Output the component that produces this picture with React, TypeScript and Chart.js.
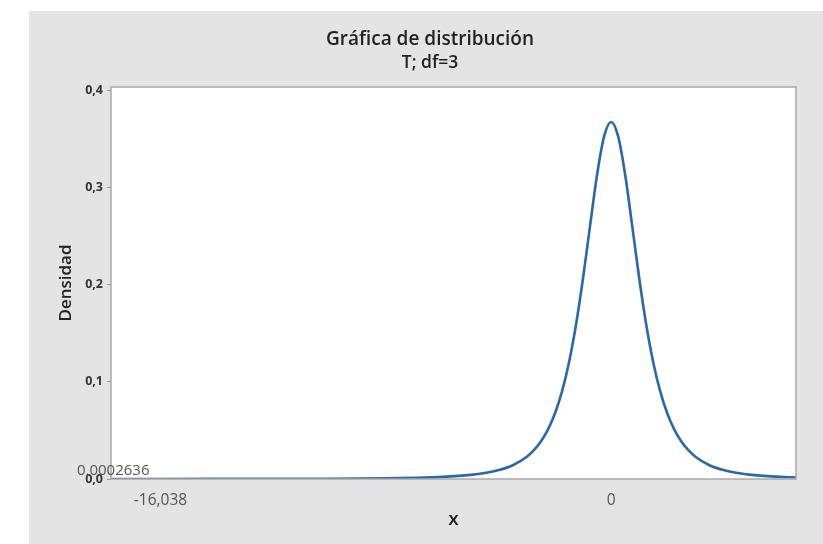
import { useEffect, useRef } from "react";
import { Chart, registerables } from "chart.js";

Chart.register(...registerables);

// Curve points (T distribution, df = 3)
const xValues = [
  -17.8, -16, -14, -12, -10, -8, -7, -6, -5, -4.5, -4, -3.5, -3, -2.75, -2.5, -2.25, -2,
  -1.75, -1.5, -1.25, -1, -0.75, -0.5, -0.25, 0, 0.25, 0.5, 0.75, 1, 1.25, 1.5, 1.75, 2,
  2.25, 2.5, 2.75, 3, 3.5, 4, 4.5, 5, 6, 6.58,
];
const densityValues = [
  0.000032, 0.000049, 0.000084, 0.000153, 0.000312, 0.00074, 0.00122, 0.00217, 0.00422,
  0.00612, 0.00916, 0.0142, 0.023, 0.0297, 0.0387, 0.0509, 0.0675, 0.09, 0.12, 0.1589,
  0.2067, 0.2606, 0.3132, 0.3527, 0.3676, 0.3527, 0.3132, 0.2606, 0.2067, 0.1589, 0.12,
  0.09, 0.0675, 0.0509, 0.0387, 0.0297, 0.023, 0.0142, 0.00916, 0.00612, 0.00422, 0.00217,
  0.00154,
];

const xTickValues = [-16.038, 0];
const xTickLabels = ["-16,038", "0"];
const yTickValues = [0, 0.1, 0.2, 0.3, 0.4];
const yTickLabels = ["0,0", "0,1", "0,2", "0,3", "0,4"];
const tailAreaLabel = "0,0002636";
const titleText = "Gráfica de distribución";
const subtitleText = "T; df=3";
const xAxisTitle = "X";
const yAxisTitle = "Densidad";

const FONT = "'Open Sans', 'Noto Sans', sans-serif";

const plotFramePlugin = {
  id: "plotFrame",
  beforeDraw(chart: any) {
    const { ctx, chartArea } = chart;
    ctx.save();
    ctx.fillStyle = "#ffffff";
    ctx.fillRect(chartArea.left, chartArea.top, chartArea.right - chartArea.left, chartArea.bottom - chartArea.top);
    ctx.restore();
  },
  afterDraw(chart: any) {
    const { ctx, chartArea, scales, width } = chart;
    ctx.save();
    ctx.strokeStyle = "#a8a8a8";
    ctx.lineWidth = 1.5;
    ctx.strokeRect(chartArea.left, chartArea.top, chartArea.right - chartArea.left, chartArea.bottom - chartArea.top);
    // tail area label
    ctx.fillStyle = "#555555";
    ctx.font = `15px ${FONT}`;
    ctx.textAlign = "left";
    ctx.textBaseline = "middle";
    ctx.fillText(tailAreaLabel, chartArea.left - 34, scales.y.getPixelForValue(0) - 8);
    // title and subtitle, centred on the panel
    const cx = width / 2 + 4;
    ctx.fillStyle = "#222222";
    ctx.textAlign = "center";
    ctx.font = `600 19px ${FONT}`;
    ctx.fillText(titleText, cx, 29);
    ctx.font = `600 17.5px ${FONT}`;
    ctx.fillText(subtitleText, cx, 52);
    ctx.restore();
  },
};

export default function App() {
  const canvasRef = useRef<HTMLCanvasElement | null>(null);

  useEffect(() => {
    if (!canvasRef.current) return;
    const chart = new Chart(canvasRef.current, {
      type: "line",
      data: {
        datasets: [
          {
            data: xValues.map((x, i) => ({ x, y: densityValues[i] })),
            borderColor: "#2a68aa",
            borderWidth: 2.6,
            pointRadius: 0,
            fill: false,
            cubicInterpolationMode: "monotone",
          },
        ],
      },
      options: {
        responsive: false,
        animation: false,
        devicePixelRatio: 1,
        layout: { padding: { left: 0, right: 27, top: 76, bottom: 0 } },
        plugins: {
          legend: { display: false },
          tooltip: { enabled: false },
          title: { display: false },
          subtitle: { display: false },
        },
        scales: {
          x: {
            type: "linear",
            min: -17.8,
            max: 6.58,
            border: { display: false },
            grid: { display: false, drawTicks: false },
            afterBuildTicks: (scale: any) => {
              scale.ticks = xTickValues.map((v) => ({ value: v }));
            },
            afterFit: (scale: any) => {
              scale.height = 65;
            },
            ticks: {
              autoSkip: false,
              maxRotation: 0,
              padding: 12,
              color: "#555555",
              font: { family: FONT, size: 15.5 },
              callback: (value: any) => {
                const i = xTickValues.indexOf(Number(value));
                return i >= 0 ? xTickLabels[i] : "";
              },
            },
            title: {
              display: true,
              text: xAxisTitle,
              color: "#222222",
              font: { family: FONT, size: 15, weight: "bold", lineHeight: 1.2 },
              padding: { top: 0, bottom: 14 },
            },
          },
          y: {
            type: "linear",
            min: 0,
            max: 0.4036,
            border: { display: false },
            grid: { display: true, drawOnChartArea: false, drawTicks: true, tickLength: 4, color: "#999999" },
            afterBuildTicks: (scale: any) => {
              scale.ticks = yTickValues.map((v) => ({ value: v }));
            },
            afterFit: (scale: any) => {
              scale.width = 82;
            },
            ticks: {
              autoSkip: false,
              padding: 4,
              color: "#333333",
              font: { family: FONT, size: 12.5, weight: "bold" },
              callback: (value: any) => {
                const i = yTickValues.indexOf(Number(value));
                return i >= 0 ? yTickLabels[i] : "";
              },
            },
            title: {
              display: true,
              text: yAxisTitle,
              color: "#222222",
              font: { family: FONT, size: 17, weight: "600", lineHeight: 1.2 },
              padding: { top: 26.8, bottom: 0 },
            },
          },
        },
      },
      plugins: [plotFramePlugin],
    } as any);
    return () => chart.destroy();
  }, []);

  return (
    <div style={{ position: "absolute", left: 0, top: 0, width: 823, height: 544, background: "#ffffff", overflow: "hidden" }}>
      <div style={{ position: "absolute", left: 29, top: 11, width: 794, height: 533, background: "#e4e4e4" }}>
        <canvas ref={canvasRef} width={794} height={533} style={{ display: "block", width: 794, height: 533 }} />
      </div>
    </div>
  );
}
